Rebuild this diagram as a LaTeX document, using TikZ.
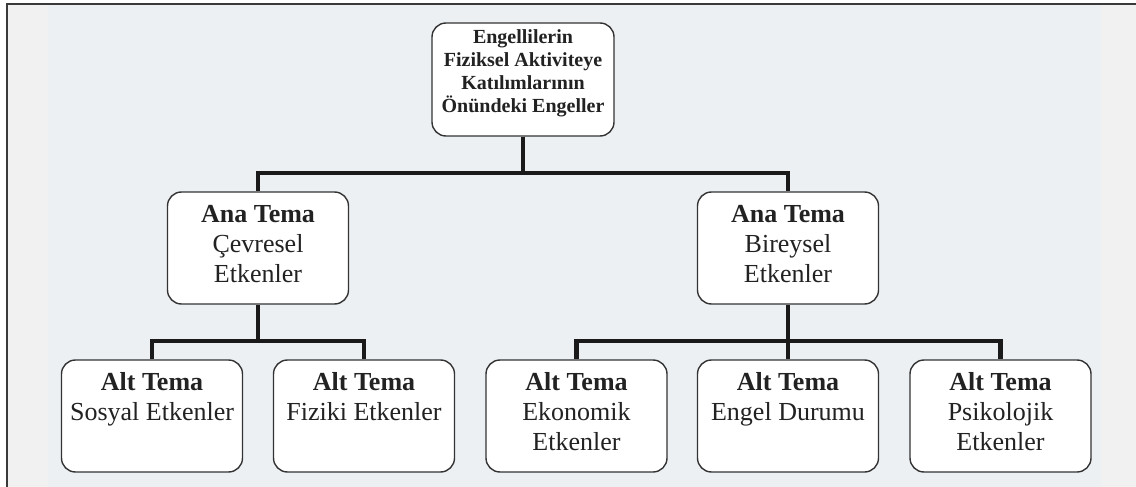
\documentclass[tikz,border=0pt]{standalone}
\usepackage{fontspec}
\setmainfont{Liberation Serif}
\definecolor{bgout}{HTML}{F1F1F1}
\definecolor{bgin}{HTML}{EDF0F3}
\definecolor{framecol}{HTML}{3A3A3A}
\definecolor{boxline}{HTML}{333333}
\definecolor{conncol}{HTML}{1A1A1A}
\definecolor{txtcol}{HTML}{222222}
\newcommand{\bxt}[2]{\parbox[c][112pt][t]{181pt}{\centering\fontsize{26}{30}\selectfont\rule{0pt}{30pt}\textbf{#1}\\#2}}
\begin{document}
\begin{tikzpicture}[x=1pt,y=-1pt,
  box/.style={draw=boxline, line width=1.4pt, fill=white, rounded corners=14pt, inner sep=0pt, text=txtcol},
  conn/.style={draw=conncol, line width=4.5pt}]
\useasboundingbox (0,0) rectangle (1136,487);
\fill[white] (0,0) rectangle (1136,487);
\fill[bgout] (7,4) rectangle (1136,487);
\fill[bgin] (48,4) rectangle (1101,487);
\draw[framecol, line width=1.2pt] (7,487) -- (7,4) -- (1136,4);
\coordinate (b1) at (0,173);
\coordinate (b2) at (0,341);
% nodes
\node[box] (root) at (523,79.5) {\parbox[c][113pt][t]{182pt}{\centering\fontsize{20}{23}\selectfont\bfseries\rule{0pt}{20pt}Engellilerin\\Fiziksel Aktiviteye\\Katılımlarının\\Önündeki Engeller}};
\node[box] (L) at (258,248) {\bxt{Ana Tema}{Çevresel\\Etkenler}};
\node[box] (R) at (788,248) {\bxt{Ana Tema}{Bireysel\\Etkenler}};
\node[box] (S) at (152,416) {\bxt{Alt Tema}{Sosyal Etkenler}};
\node[box] (F) at (364,416) {\bxt{Alt Tema}{Fiziki Etkenler}};
\node[box] (Ek) at (576.5,416) {\bxt{Alt Tema}{Ekonomik\\Etkenler}};
\node[box] (En) at (788,416) {\bxt{Alt Tema}{Engel Durumu}};
\node[box] (P) at (1000.5,416) {\bxt{Alt Tema}{Psikolojik\\Etkenler}};
% connectors
\draw[conn] (root.south) -- (root.south |- b1);
\draw[conn] (L.north) |- (root.south |- b1) -| (R.north);
\draw[conn] (L.south) -- (L.south |- b2);
\draw[conn] (S.north) |- (L.south |- b2) -| (F.north);
\draw[conn] (R.south) -- (En.north);
\draw[conn] (Ek.north) |- (R.south |- b2) -| (P.north);
\end{tikzpicture}
\end{document}
